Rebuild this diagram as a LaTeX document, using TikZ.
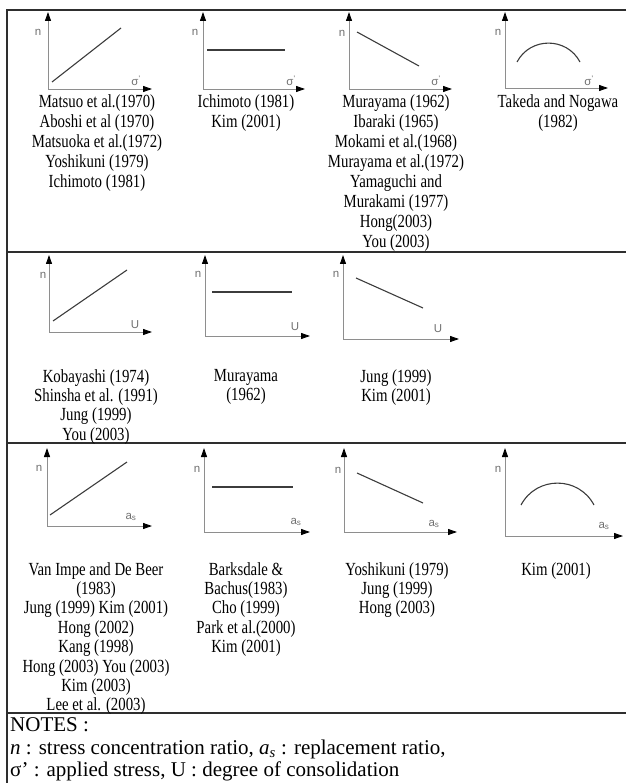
\documentclass[tikz,border=0pt]{standalone}
\usepackage{fontspec}
\setmainfont{Liberation Serif}
\newfontfamily\citefont[FakeStretch=0.8]{Liberation Serif}
\newfontfamily\labfont{Liberation Sans}
\usetikzlibrary{arrows.meta}
\definecolor{axisgray}{HTML}{8E8E8E}
\definecolor{datagray}{HTML}{3C3C3C}
\definecolor{labgray}{HTML}{707070}
\definecolor{framec}{HTML}{2E2E2E}
\newcommand\mkaxes[5]{%
  \coordinate (#1o) at (#2,#3);
  \coordinate (#1t) at (#2,#4);
  \coordinate (#1r) at (#5,#3);
  \draw[axis] (#1t) -- (#1o) -- (#1r);
}
\begin{document}
\begin{tikzpicture}[x=1pt,y=-1pt,
  axis/.style={draw=axisgray, line width=0.9pt,
    {Triangle[length=9pt,width=6pt,color=black,fill=black]}-{Triangle[length=9pt,width=6pt,color=black,fill=black]}},
  dataline/.style={draw=datagray, line width=1.1pt},
  lab/.style={font=\labfont\fontsize{11.5}{12}\selectfont, text=labgray, inner sep=0},
  cite/.style={font=\citefont\fontsize{18.5}{19.4}\selectfont, align=center, anchor=north, inner sep=0, execute at begin node=\strut},
  citeone/.style={cite, font=\citefont\fontsize{18.5}{20}\selectfont},
  notes/.style={font=\fontsize{21}{22}\selectfont, anchor=base west, inner sep=0},
  frame/.style={draw=framec, line width=1.2pt}]
\useasboundingbox (0,0) rectangle (626,783);
% frame
\coordinate (ftl) at (7,10);
\coordinate (ftr) at (626,10);
\coordinate (fbl) at (7,783);
\coordinate (d1l) at (7,252);  \coordinate (d1r) at (626,252);
\coordinate (d2l) at (7,443);  \coordinate (d2r) at (626,443);
\coordinate (d3l) at (7,713);  \coordinate (d3r) at (626,713);
\draw[frame] (ftr) -- (ftl) -- (fbl);
\draw[frame] (d1l) -- (d1r);
\draw[frame] (d2l) -- (d2r);
\draw[frame] (d3l) -- (d3r);

% ---------- row 1 ----------
\mkaxes{pa}{48}{89}{12}{152}
\coordinate (la1) at (52,82); \coordinate (la2) at (121,28);
\draw[dataline] (la1) -- (la2);
\node[lab] (na) at (38,32) {n};
\node[lab] (xa) at (136,81) {σ\textsuperscript{'}};

\mkaxes{pb}{203}{89}{12}{305}
\coordinate (lb1) at (207,50); \coordinate (lb2) at (285,50);
\draw[dataline] (lb1) -- (lb2);
\node[lab] (nb) at (195,32) {n};
\node[lab] (xb) at (291,81) {σ\textsuperscript{'}};

\mkaxes{pc}{349}{89}{12}{452}
\coordinate (lc1) at (357,32); \coordinate (lc2) at (419,66);
\draw[dataline] (lc1) -- (lc2);
\node[lab] (nc) at (342,33) {n};
\node[lab] (xc) at (436,81) {σ\textsuperscript{'}};

\mkaxes{pd}{505}{88}{12}{608}
\coordinate (ld1) at (517,62); \coordinate (ld2) at (580,62);
\coordinate (ldc1) at (530.3,36.8); \coordinate (ldc2) at (566.7,36.8);
\draw[dataline] (ld1) .. controls (ldc1) and (ldc2) .. (ld2);
\node[lab] (nd) at (498,32) {n};
\node[lab] (xd) at (589,81) {σ\textsuperscript{'}};

\node[citeone] (ta) at (97,94) {Matsuo et al.(1970)\\Aboshi et al (1970)\\Matsuoka et al.(1972)\\Yoshikuni (1979)\\Ichimoto (1981)};
\node[citeone] (tb) at (246,94) {Ichimoto (1981)\\Kim (2001)};
\node[citeone] (tc) at (396,94) {Murayama (1962)\\Ibaraki (1965)\\Mokami et al.(1968)\\Murayama et al.(1972)\\Yamaguchi and\\Murakami (1977)\\Hong(2003)\\You (2003)};
\node[citeone] (td) at (558,94) {Takeda and Nogawa\\(1982)};

% ---------- row 2 ----------
\mkaxes{pe}{49}{332}{255}{152}
\coordinate (le1) at (53,321); \coordinate (le2) at (127,270);
\draw[dataline] (le1) -- (le2);
\node[lab] (ne) at (43,275) {n};
\node[lab] (xe) at (135,325) {U};

\mkaxes{pf}{205}{336}{255}{310}
\coordinate (lf1) at (212,292); \coordinate (lf2) at (292,292);
\draw[dataline] (lf1) -- (lf2);
\node[lab] (nf) at (198,274) {n};
\node[lab] (xf) at (295,327) {U};

\mkaxes{pg}{343}{339}{255}{459}
\coordinate (lg1) at (356,278); \coordinate (lg2) at (423,308);
\draw[dataline] (lg1) -- (lg2);
\node[lab] (ng) at (336,274) {n};
\node[lab] (xg) at (438,329) {U};

\node[cite] (te) at (96,369) {Kobayashi (1974)\\Shinsha et al. (1991)\\Jung (1999)\\You (2003)};
\node[cite] (tf) at (246,369) {Murayama\\(1962)};
\node[cite] (tg) at (396,369) {Jung (1999)\\Kim (2001)};

% ---------- row 3 ----------
\mkaxes{ph}{47}{526}{448}{152}
\coordinate (lh1) at (50,515); \coordinate (lh2) at (127,462);
\draw[dataline] (lh1) -- (lh2);
\node[lab] (nh) at (39,468) {n};
\node[lab] (xh) at (131,517) {a\textsubscript{s}};

\mkaxes{pi}{204}{532}{448}{310}
\coordinate (li1) at (212,487); \coordinate (li2) at (293,487);
\draw[dataline] (li1) -- (li2);
\node[lab] (ni) at (197,469) {n};
\node[lab] (xi) at (296,522) {a\textsubscript{s}};

\mkaxes{pj}{344}{532}{448}{457}
\coordinate (lj1) at (357,473); \coordinate (lj2) at (423,503);
\draw[dataline] (lj1) -- (lj2);
\node[lab] (nj) at (338,470) {n};
\node[lab] (xj) at (434,524) {a\textsubscript{s}};

\mkaxes{pk}{505}{536}{448}{623}
\coordinate (lk1) at (521,505); \coordinate (lk2) at (594,505);
\coordinate (lkc1) at (536.5,475.8); \coordinate (lkc2) at (578.5,475.8);
\draw[dataline] (lk1) .. controls (lkc1) and (lkc2) .. (lk2);
\node[lab] (nk) at (498,469) {n};
\node[lab] (xk) at (604,526) {a\textsubscript{s}};

\node[cite] (th) at (96,562) {Van Impe and De Beer\\(1983)\\Jung (1999) Kim (2001)\\Hong (2002)\\Kang (1998)\\Hong (2003) You (2003)\\Kim (2003)\\Lee et al. (2003)};
\node[cite] (ti) at (246,562) {Barksdale \&\\Bachus(1983)\\Cho (1999)\\Park et al.(2000)\\Kim (2001)};
\node[cite] (tj) at (397,562) {Yoshikuni (1979)\\Jung (1999)\\Hong (2003)};
\node[cite] (tk) at (556,562) {Kim (2001)};

% ---------- notes ----------
\node[notes] (n1) at (10,731) {NOTES :};
\node[notes] (n2) at (10,754) {\textit{n} : stress concentration ratio, \textit{a}\textsubscript{\textit{s}} : replacement ratio,};
\node[notes] (n3) at (10,776) {σ’ : applied stress, U : degree of consolidation};
\end{tikzpicture}
\end{document}
